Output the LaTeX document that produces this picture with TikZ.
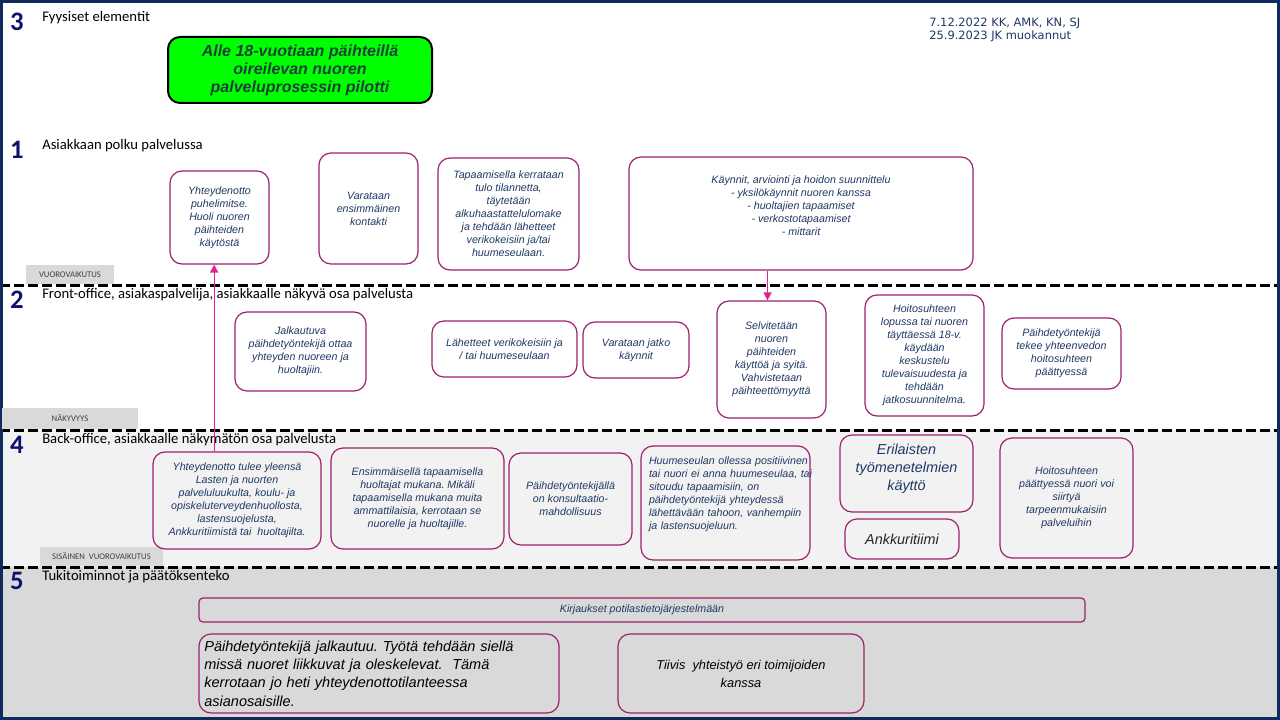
\documentclass[tikz,border=0pt]{standalone}
\usepackage{fontspec}
\setmainfont{Liberation Sans}
\newfontfamily\calfont{Carlito}
\newfontfamily\verfont{DejaVu Sans}
\usetikzlibrary{arrows.meta}
\frenchspacing
\definecolor{navyframe}{HTML}{0F2B5B}
\definecolor{numblue}{HTML}{101070}
\definecolor{txtblue}{HTML}{1F3864}
\definecolor{boxline}{HTML}{9E1F6E}
\definecolor{arrowpink}{HTML}{E0238C}
\definecolor{bgfour}{HTML}{F2F2F2}
\definecolor{bgfive}{HTML}{D9D9D9}
\definecolor{greenfill}{HTML}{00FF00}
\definecolor{greentxt}{HTML}{1A4038}
\definecolor{tagtxt}{HTML}{404040}
\newcommand\mkbox[7]{\node[#6, minimum width={(#4-#2)*0.75pt}, minimum height={(#5-#3)*0.75pt}] (#1) at ({(#2+#4)/2},{(#3+#5)/2}) {#7};}
\tikzset{
  pbox/.style={draw=boxline, line width=0.9pt, rounded corners=9pt, align=center, inner sep=1pt, text=txtblue,
    font=\fontsize{8}{9.75}\selectfont\itshape},
  bigbox/.style={pbox, font=\fontsize{10.8}{13.5}\selectfont\itshape},
  lowbox/.style={pbox, text=black, font=\fontsize{10.9}{13.8}\selectfont\itshape},
  sepline/.style={line width=2.25pt, dash pattern=on 7.5pt off 3pt},
  secnum/.style={font=\calfont\bfseries\fontsize{20}{20}\selectfont, text=numblue, inner sep=0pt},
  sectitle/.style={font=\calfont\fontsize{11}{13}\selectfont, anchor=west, inner sep=0pt},
  tagbox/.style={fill=bgfive, font=\calfont\fontsize{6.5}{7}\selectfont, text=tagtxt, inner sep=0pt},
  arr/.style={draw=arrowpink, line width=1pt, -{Triangle[length=6pt,width=6pt]}},
  greenbox/.style={draw=black, line width=1.5pt, fill=greenfill, rounded corners=9pt, align=center,
    text=greentxt, font=\fontsize{12}{13.5}\selectfont\bfseries\itshape}
}
\begin{document}
\begin{tikzpicture}[x=0.75pt,y=-0.75pt]
\useasboundingbox (0,0) rectangle (1280,720);
% backgrounds
\fill[white] (0,0) rectangle (1280,430);
\fill[bgfour] (0,430) rectangle (1280,567);
\fill[bgfive] (0,567) rectangle (1280,720);
% separators
\draw[sepline] (0,285) -- (1280,285);
\draw[sepline] (0,430) -- (1280,430);
\draw[sepline] (0,567) -- (1280,567);
% frame
\draw[navyframe, line width=2.6pt] (1.7,1.7) rectangle (1278.3,718.3);

% section headings
\node[secnum] (n3) at (17,22) {3};
\node[sectitle] (s3) at (42,18) {Fyysiset elementit};
\node[secnum] (n1) at (17,150) {1};
\node[sectitle] (s1) at (42,146) {Asiakkaan polku palvelussa};
\node[secnum] (n2) at (17,300) {2};
\node[sectitle] (s2) at (42,295) {Front-office, asiakaspalvelija, asiakkaalle näkyvä osa palvelusta};
\node[secnum] (n4) at (17,445) {4};
\node[sectitle] (s4) at (42,440) {Back-office, asiakkaalle näkymätön osa palvelusta};
\node[secnum] (n5) at (17,581) {5};
\node[sectitle] (s5) at (42,577) {Tukitoiminnot ja päätöksenteko};

% tags
\mkbox{t1}{26}{265}{114}{284}{tagbox}{VUOROVAIKUTUS}
\mkbox{t2}{2}{408}{138}{429}{tagbox}{NÄKYVYYS}
\mkbox{t4}{40}{547}{163}{566}{tagbox}{SISÄINEN\ \ VUOROVAIKUTUS}

% date
\node[anchor=west, align=left, inner sep=0pt, text=txtblue, font=\verfont\fontsize{8.6}{9.75}\selectfont] (date) at (929,29.5)
  {7.12.2022 KK, AMK, KN, SJ\\25.9.2023 JK muokannut};

% green title box
\mkbox{g}{168}{37}{432}{103}{greenbox}{Alle 18-vuotiaan päihteillä\\oireilevan nuoren\\palveluprosessin pilotti}

% section 1
\mkbox{A1}{170}{171}{269}{264}{pbox}{Yhteydenotto\\puhelimitse.\\Huoli nuoren\\päihteiden\\käytöstä}
\mkbox{A2}{319}{153}{418}{264}{pbox}{Varataan\\ensimmäinen\\kontakti}
\mkbox{A3}{438}{158}{579}{270}{pbox}{Tapaamisella kerrataan\\tulo tilannetta,\\täytetään\\alkuhaastattelulomake\\ja tehdään lähetteet\\verikokeisiin ja/tai\\huumeseulaan.}
\mkbox{A4}{629}{157}{973}{270}{pbox}{Käynnit, arviointi ja hoidon suunnittelu\\- yksilökäynnit nuoren kanssa\\- huoltajien tapaamiset\\- verkostotapaamiset\\- mittarit\\[2pt]\mbox{}}

% section 2
\mkbox{B1}{235}{312}{366}{391}{pbox}{Jalkautuva\\päihdetyöntekijä ottaa\\yhteyden nuoreen ja\\huoltajiin.}
\mkbox{B2}{432}{321}{577}{377}{pbox}{Lähetteet verikokeisiin ja\\/ tai huumeseulaan}
\mkbox{B3}{583}{322}{689}{378}{pbox}{Varataan jatko\\käynnit}
\mkbox{B4}{717}{301}{826}{418}{pbox}{Selvitetään\\nuoren\\päihteiden\\käyttöä ja syitä.\\Vahvistetaan\\päihteettömyyttä}
\mkbox{B5}{865}{295}{984}{416}{pbox}{Hoitosuhteen\\lopussa tai nuoren\\täyttäessä 18-v.\\käydään\\keskustelu\\tulevaisuudesta ja\\tehdään\\jatkosuunnitelma.}
\mkbox{B6}{1002}{318}{1121}{389}{pbox}{Päihdetyöntekijä\\tekee yhteenvedon\\hoitosuhteen\\päättyessä}

% section 4
\mkbox{C1}{153}{452}{321}{549}{pbox}{Yhteydenotto tulee yleensä\\Lasten ja nuorten\\palveluluukulta, koulu- ja\\opiskeluterveydenhuollosta,\\lastensuojelusta,\\Ankkuritiimistä tai\ \ huoltajilta.}
\mkbox{C2}{331}{448}{504}{549}{pbox}{Ensimmäisellä tapaamisella\\huoltajat mukana. Mikäli\\tapaamisella mukana muita\\ammattilaisia, kerrotaan se\\nuorelle ja huoltajille.}
\mkbox{C3}{509}{453}{632}{545}{pbox}{Päihdetyöntekijällä\\on konsultaatio-\\mahdollisuus}
\mkbox{C4}{641}{446}{810}{560}{pbox, align=left, text width=126.75pt, inner xsep=0pt}{\leftskip=6pt\rightskip=-8pt plus 1fil Huumeseulan ollessa positiivinen\\tai nuori ei anna huumeseulaa, tai\\sitoudu tapaamisiin, on\\päihdetyöntekijä yhteydessä\\lähettävään tahoon, vanhempiin\\ja lastensuojeluun.\\[5pt]\mbox{}}
\mkbox{C5}{840}{435}{973}{512}{bigbox}{Erilaisten\\työmenetelmien\\käyttö\\[-4pt]\mbox{}}
\mkbox{C6}{845}{519}{959}{559}{bigbox, text=black!85}{Ankkuritiimi}
\mkbox{C7}{1000}{438}{1133}{558}{pbox}{Hoitosuhteen\\päättyessä nuori voi\\siirtyä\\tarpeenmukaisiin\\palveluihin}

% section 5
\mkbox{D1}{199}{598}{1085}{622}{pbox, rounded corners=3pt}{Kirjaukset potilastietojärjestelmään}
\mkbox{D2}{199}{634}{559}{713}{lowbox, align=left, text width=262pt}{Päihdetyöntekijä jalkautuu. Työtä tehdään siellä\\missä nuoret liikkuvat ja oleskelevat.\ \ Tämä\\kerrotaan jo heti yhteydenottotilanteessa\\asianosaisille.}
\mkbox{D3}{618}{634}{864}{713}{lowbox, font=\fontsize{9.6}{13.5}\selectfont\itshape}{Tiivis\ \ yhteistyö eri toimijoiden\\kanssa}

% arrows
\coordinate (a1foot) at ([xshift=-4pt]A1.south);
\draw[arr] (a1foot |- C1.north) -- (a1foot);
\coordinate (b4head) at ([xshift=-3pt]B4.north);
\draw[arr] (b4head |- A4.south) -- (b4head);
\end{tikzpicture}
\end{document}
